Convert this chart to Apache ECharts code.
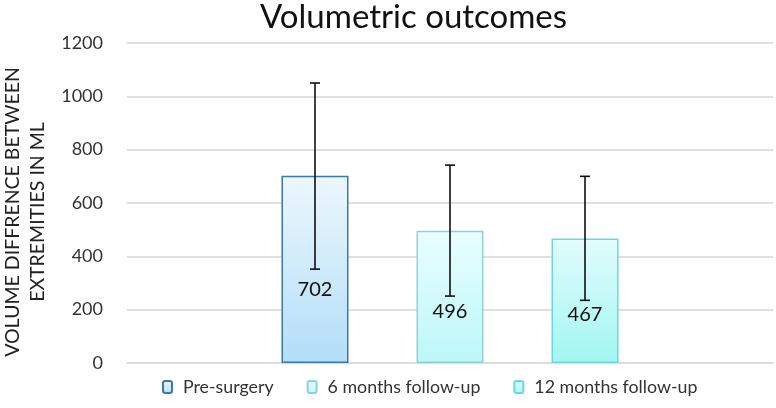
<!DOCTYPE html>
<html>
<head>
<meta charset="utf-8">
<script src="https://cdn.jsdelivr.net/npm/echarts@6/dist/echarts.min.js"></script>
<style>html,body{margin:0;padding:0;background:#fff}#c{width:776px;height:408px}</style>
</head>
<body>
<div id="c"></div>
<script>
var seriesNames = ['Pre-surgery', '6 months follow-up', '12 months follow-up'];
var means = [702, 496, 467];
var errLow = [352, 251, 235];
var errHigh = [1050, 742, 700];
var yTicks = [0, 200, 400, 600, 800, 1000, 1200];

var BAR_W = 67, GAP = 1.015;
var fills = [['#ecf7fd', '#b2def8'], ['#e9fefe', '#bcf7f9'], ['#e2fcfc', '#a2f6f2']];
var borders = ['#3d78a8', '#8dd3d6', '#6ad9de'];
var font = 'Lato';

var chart = echarts.init(document.getElementById('c'));
var series = seriesNames.map(function (n, i) {
  return {
    name: n, type: 'bar', barWidth: BAR_W, barGap: (GAP * 100) + '%',
    data: [means[i]],
    itemStyle: {
      color: new echarts.graphic.LinearGradient(0, 0, 0, 1, [{offset: 0, color: fills[i][0]}, {offset: 1, color: fills[i][1]}]),
      borderColor: borders[i], borderWidth: 1.5
    },
    label: {show: true, position: ['50%', '61%'], align: 'center', verticalAlign: 'middle',
      color: '#111', fontSize: 20, fontFamily: font},
    z: 2
  };
});
series.push({
  type: 'custom', z: 5, silent: true,
  data: means.map(function (m, i) { return [0, errLow[i], errHigh[i], i]; }),
  encode: {x: 0, y: [1, 2]},
  renderItem: function (params, api) {
    var i = api.value(3);
    var off = (i - 1) * BAR_W * (1 + GAP);
    var lo = api.coord([0, api.value(1)]);
    var hi = api.coord([0, api.value(2)]);
    var x = lo[0] + off;
    var st = {stroke: '#111', lineWidth: 1.6};
    return {type: 'group', children: [
      {type: 'line', shape: {x1: x, y1: lo[1], x2: x, y2: hi[1]}, style: st},
      {type: 'line', shape: {x1: x - 5, y1: lo[1], x2: x + 5, y2: lo[1]}, style: st},
      {type: 'line', shape: {x1: x - 5, y1: hi[1], x2: x + 5, y2: hi[1]}, style: st}
    ]};
  }
});

chart.setOption({
  animation: false,
  title: {text: 'Volumetric outcomes', left: 255, top: -4,
    textStyle: {fontFamily: font, fontWeight: 'normal', fontSize: 33, color: '#111'}},
  grid: {left: 127, right: 3, top: 43, bottom: 45, containLabel: false, outerBoundsMode: 'none'},
  legend: {data: seriesNames, bottom: 7, left: 157, itemWidth: 9, itemHeight: 12, itemGap: 33,
    textStyle: {fontFamily: font, fontSize: 17.8, color: '#333', padding: [0, 0, 0, 6]}},
  xAxis: {type: 'category', data: [''], axisTick: {show: false}, axisLabel: {show: false},
    axisLine: {lineStyle: {color: '#dcdcdc', width: 2}}},
  yAxis: {type: 'value', min: yTicks[0], max: yTicks[yTicks.length - 1], interval: 200,
    name: 'VOLUME DIFFRENCE BETWEEN\nEXTREMITIES IN ML', nameLocation: 'middle', nameRotate: 90, nameGap: 77,
    nameTextStyle: {fontFamily: font, fontSize: 19.5, color: '#222', lineHeight: 25, padding: [0, 18, 0, 0]},
    axisLabel: {fontFamily: font, fontSize: 18, color: '#333', margin: 24, formatter: function (v) { return String(v); }},
    splitLine: {lineStyle: {color: '#e0e0e0', width: 2}},
    axisLine: {show: false}, axisTick: {show: false}},
  series: series
});
</script>
</body>
</html>
